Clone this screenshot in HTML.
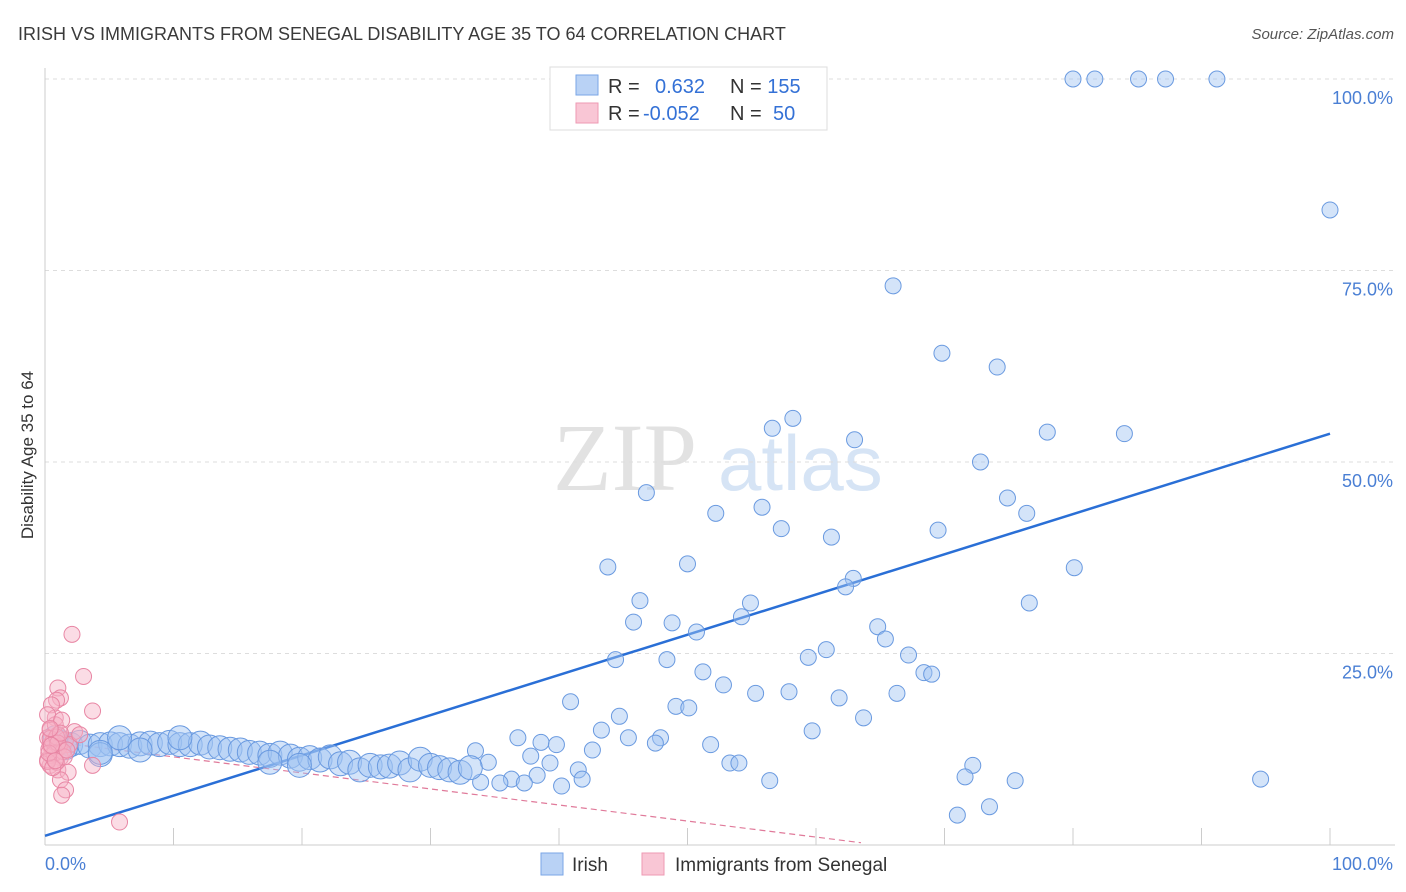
<!DOCTYPE html>
<html><head><meta charset="utf-8">
<style>
body{margin:0;background:#fff;font-family:"Liberation Sans",sans-serif;}
svg{display:block}
</style></head>
<body>
<svg id="chart" width="1406" height="892" xmlns="http://www.w3.org/2000/svg">
<text x="18" y="40" font-size="18" fill="#3a3a3a">IRISH VS IMMIGRANTS FROM SENEGAL DISABILITY AGE 35 TO 64 CORRELATION CHART</text>
<text x="1394" y="39" font-size="15" fill="#555" font-style="italic" text-anchor="end">Source: ZipAtlas.com</text>
<g>
<text x="553" y="490" font-family="Liberation Serif,serif" font-size="96" fill="#e2e2e2">ZIP</text>
<text x="718" y="490" font-size="78" fill="#d6e4f5">atlas</text>
</g>
<g id="grid"></g>
<g id="axes"></g>
<g id="trend"></g>
<g id="pts"></g>
<text transform="translate(33,455) rotate(-90)" font-size="17" fill="#333" text-anchor="middle">Disability Age 35 to 64</text>
<g>
<rect x="550" y="67" width="277" height="63" fill="#fff" stroke="#ddd"/>
<rect x="576" y="75" width="22" height="20" fill="#b9d2f5" stroke="#7aa6e6"/>
<rect x="576" y="103" width="22" height="20" fill="#f9c6d5" stroke="#ee9ab3"/>
<text x="608" y="93" font-size="20" fill="#333">R = <tspan fill="#3471d6" x="655">0.632</tspan><tspan x="730" fill="#333">N = </tspan><tspan fill="#3471d6">155</tspan></text>
<text x="608" y="120" font-size="20" fill="#333">R = <tspan fill="#3471d6" x="643">-0.052</tspan><tspan x="730" fill="#333">N = </tspan><tspan fill="#3471d6" x="773">50</tspan></text>
</g>
<g>
<rect x="541" y="853" width="22" height="22" fill="#b9d2f5" stroke="#7aa6e6"/>
<text x="572" y="871" font-size="19" fill="#333">Irish</text>
<rect x="642" y="853" width="22" height="22" fill="#f9c6d5" stroke="#ee9ab3"/>
<text x="675" y="871" font-size="19" fill="#333">Immigrants from Senegal</text>
</g>
</svg>
<script>
const yTicks=[25,50,75,100];
const yTickLabels=["25.0%","50.0%","75.0%","100.0%"];
const xTickVals=[0,10,20,30,40,50,60,70,80,90,100];
const irishX=[80,81.7,85.1,87.2,91.2,100,66,69.8,74.1,58.2,56.6,78,84,63,72.8,46.8,74.9,52.2,55.8,76.4,57.3,69.5,61.2,43.8,50,80.1,62.9,62.3,46.3,54.9,76.6,45.8,48.8,54.2,64.8,50.7,65.4,60.8,44.4,48.4,59.4,67.2,51.2,68.4,69,52.8,55.3,57.9,61.8,66.3,40.9,49.1,50.1,63.7,44.7,43.3,59.7,36.8,45.4,47.9,38.6,39.8,47.5,51.8,42.6,33.5,37.8,34.5,39.3,53.3,54,72.2,41.5,38.3,36.3,71.6,41.8,37.3,33.9,35.4,56.4,75.5,94.6,40.2,73.5,71,
1.2,2.0,2.7,3.5,4.3,5.1,5.8,6.6,7.4,8.2,8.9,9.7,10.5,11.3,12.1,12.8,13.6,14.4,15.2,15.9,16.7,17.5,18.3,19.1,19.8,20.6,21.4,22.2,23,23.7,24.5,25.3,26.1,26.8,27.6,28.4,29.2,30,30.7,31.5,32.3,33.1,1.6,4.3,0.8,7.4,5.8,10.5,17.5,19.8,4.3];
const irishY=[100,100,100,100,100,82.9,73,64.2,62.4,55.7,54.4,53.9,53.7,52.9,50,46,45.3,43.3,44.1,43.3,41.3,41.1,40.2,36.3,36.7,36.2,34.8,33.7,31.9,31.6,31.6,29.1,29,29.8,28.5,27.8,26.9,25.5,24.2,24.2,24.5,24.8,22.6,22.5,22.3,20.9,19.8,20,19.2,19.8,18.7,18.1,17.9,16.6,16.8,15,14.9,14,14,14,13.4,13.1,13.3,13.1,12.4,12.3,11.6,10.8,10.7,10.7,10.7,10.4,9.8,9.1,8.6,8.9,8.6,8.1,8.2,8.1,8.4,8.4,8.6,7.7,5,3.9,
13.4,13.1,13.4,12.9,13.1,13.2,13.1,12.9,13.2,13.3,13.1,13.4,13.1,13.1,13.3,12.8,12.7,12.5,12.4,12.1,12,11.7,12,11.6,11.2,11.4,11.1,11.5,10.6,10.8,9.8,10.4,10.2,10.3,10.7,9.8,11.2,10.4,10.1,9.8,9.5,10.1,12.7,11.8,14,12.4,14,14,10.8,10.4,12.1];
const senX=[2.1,3.0,1,1.2,0.9,0.5,3.7,0.8,0.4,1,1.6,2.3,0.4,0.8,1.2,0.4,1,3.7,1.8,1.2,1.6,1.3,5.8,0.2,0.5,0.8,0.2,1.9,2.7,1.3,0.2,0.5,0.9,0.3,0.6,1.1,0.7,1.4,0.4,0.9,0.2,1.5,0.6,1.0,0.3,0.8,1.2,0.5,1.7,0.4];
const senY=[27.5,22,20.5,19.2,18.9,18.3,17.5,16.6,15,14.4,13.7,14.8,13.1,12.1,11.4,10.4,9.8,10.4,9.5,8.5,7.2,6.5,3,11.1,12.7,15.7,17,13.1,14.4,16.3,14,11.7,10.8,12.5,13.5,12.8,11.9,12.2,13.9,14.1,10.9,11.5,10.1,13.3,12,11,14.6,13,12.4,15.2];
const irishTrend=[[0,1.2],[100,53.7]];
const senTrend=[[0,13.6],[63.5,0.3]];
const NS="http://www.w3.org/2000/svg";
const X=v=>45+v*12.85, Y=v=>845-v*7.66;
function mk(t,a,p){const e=document.createElementNS(NS,t);for(const k in a)e.setAttribute(k,a[k]);p.appendChild(e);return e;}
const grid=document.getElementById('grid'),axes=document.getElementById('axes'),pts=document.getElementById('pts'),trend=document.getElementById('trend');
yTicks.forEach((t,i)=>{
 const l=mk('line',{x1:45,x2:1395,y1:Y(t),y2:Y(t),stroke:'#ddd','stroke-dasharray':'4,4'},grid);
 
 
 const tx=mk('text',{x:1393,y:Y(t)+25,'font-size':18,fill:'#4a7fd4','text-anchor':'end'},axes);
 tx.textContent=yTickLabels[i];
 
 
});
mk('line',{x1:45,x2:45,y1:68,y2:845,stroke:'#ccc'},axes);
mk('line',{x1:45,x2:1395,y1:845,y2:845,stroke:'#ccc'},axes);
xTickVals.forEach(v=>{const t=mk('line',{x1:X(v),x2:X(v),y1:828,y2:845,stroke:'#ccc'},axes);
 
 });
const xl=mk('text',{x:45,y:870,'font-size':18,fill:'#4a7fd4'},axes);xl.textContent='0.0%';


const xr=mk('text',{x:1393,y:870,'font-size':18,fill:'#4a7fd4','text-anchor':'end'},axes);xr.textContent='100.0%';


irishX.forEach((x,i)=>{const big=i>=86;
 const c=mk('circle',{cx:X(x),cy:Y(irishY[i]),r:big?12:8,fill:'rgba(160,196,242,0.45)',stroke:'#6a9ae0','stroke-width':1},pts);
 
 });
senX.forEach((x,i)=>{
 const c=mk('circle',{cx:X(x),cy:Y(senY[i]),r:8,fill:'rgba(246,178,198,0.45)',stroke:'#e886a4','stroke-width':1},pts);
 
 });
const bt=mk('line',{x1:X(irishTrend[0][0]),y1:Y(irishTrend[0][1]),x2:X(irishTrend[1][0]),y2:Y(irishTrend[1][1]),stroke:'#2a6fd6','stroke-width':2.5},trend);


const pt=mk('line',{x1:X(senTrend[0][0]),y1:Y(senTrend[0][1]),x2:X(senTrend[1][0]),y2:Y(senTrend[1][1]),stroke:'#e07a9a','stroke-width':1.2,'stroke-dasharray':'6,4'},trend);


</script>
</body></html>
